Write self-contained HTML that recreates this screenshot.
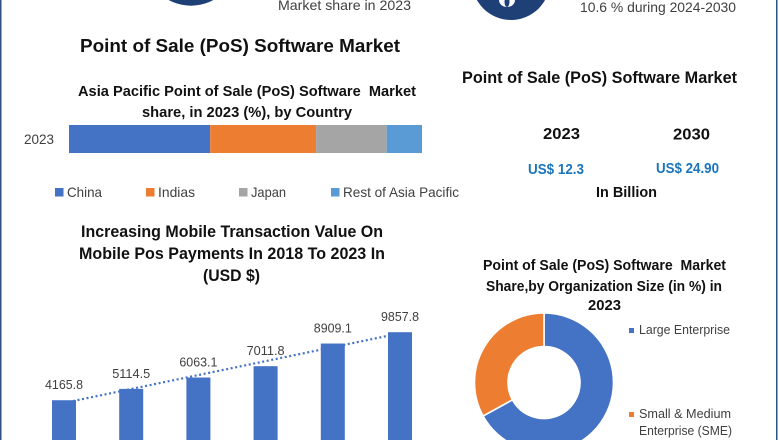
<!DOCTYPE html>
<html lang="en">
<head>
<meta charset="utf-8">
<title>Point of Sale (PoS) Software Market</title>
<style>
html,body{margin:0;padding:0;background:#fff;}
body{width:780px;height:440px;overflow:hidden;}
svg{display:block;filter:blur(0.3px);font-family:"Liberation Sans",sans-serif;}
.t{font-weight:bold;fill:#111;}
.n{fill:#404040;}
</style>
</head>
<body>
<svg id="chart" width="780" height="440" viewBox="0 0 780 440" xmlns="http://www.w3.org/2000/svg">
  <rect x="0" y="0" width="780" height="440" fill="#fff"/>
  <rect x="0" y="0" width="1.5" height="440" fill="#2f5285"/>
  <rect x="776" y="0" width="1.5" height="440" fill="#2f5285"/>

  <circle cx="191" cy="-41" r="46.7" fill="#1f3f77"/>
  <circle cx="511" cy="-19" r="39" fill="#1f3f77"/>
  <ellipse cx="507" cy="0" rx="8" ry="7" fill="#fff"/>
  <ellipse cx="507" cy="2" rx="2.5" ry="5" fill="#1f3f77"/>

  <text class="n" x="278" y="10" font-size="14" textLength="133" lengthAdjust="spacingAndGlyphs">Market share in 2023</text>
  <text class="n" x="580" y="12" font-size="14" textLength="156" lengthAdjust="spacingAndGlyphs">10.6 % during 2024-2030</text>

  <text class="t" x="80" y="52" font-size="18.5" textLength="320" lengthAdjust="spacingAndGlyphs">Point of Sale (PoS) Software Market</text>
  <text class="t" x="78" y="96" font-size="15" textLength="338" lengthAdjust="spacingAndGlyphs" xml:space="preserve">Asia Pacific Point of Sale (PoS) Software  Market</text>
  <text class="t" x="142" y="117" font-size="15" textLength="210" lengthAdjust="spacingAndGlyphs">share, in 2023 (%), by Country</text>
  <text class="n" x="24" y="144" font-size="14" textLength="30" lengthAdjust="spacingAndGlyphs">2023</text>
  <g id="stack"></g>

  <g>
    <rect x="55" y="188" width="8.5" height="8.5" fill="#4472c4"/>
    <text class="n" x="67" y="197" font-size="14" textLength="35" lengthAdjust="spacingAndGlyphs">China</text>
    <rect x="146" y="188" width="8.5" height="8.5" fill="#ed7d31"/>
    <text class="n" x="158" y="197" font-size="14" textLength="37" lengthAdjust="spacingAndGlyphs">Indias</text>
    <rect x="239" y="188" width="8.5" height="8.5" fill="#a5a5a5"/>
    <text class="n" x="251" y="197" font-size="14" textLength="35" lengthAdjust="spacingAndGlyphs">Japan</text>
    <rect x="331" y="188" width="8.5" height="8.5" fill="#5b9bd5"/>
    <text class="n" x="343" y="197" font-size="14" textLength="116" lengthAdjust="spacingAndGlyphs">Rest of Asia Pacific</text>
  </g>

  <text class="t" x="462" y="83" font-size="17" textLength="275" lengthAdjust="spacingAndGlyphs">Point of Sale (PoS) Software Market</text>
  <text class="t" x="543" y="139" font-size="16" textLength="37" lengthAdjust="spacingAndGlyphs">2023</text>
  <text class="t" x="673" y="139.5" font-size="16" textLength="37" lengthAdjust="spacingAndGlyphs">2030</text>
  <text font-weight="bold" fill="#1b75bc" x="528" y="174" font-size="14.5" textLength="56" lengthAdjust="spacingAndGlyphs">US$ 12.3</text>
  <text font-weight="bold" fill="#1b75bc" x="656" y="173" font-size="14.5" textLength="63" lengthAdjust="spacingAndGlyphs">US$ 24.90</text>
  <text class="t" x="596" y="197" font-size="15" textLength="61" lengthAdjust="spacingAndGlyphs">In Billion</text>

  <text class="t" x="81" y="237" font-size="16.5" textLength="302" lengthAdjust="spacingAndGlyphs">Increasing Mobile Transaction Value On</text>
  <text class="t" x="79" y="259" font-size="16.5" textLength="306" lengthAdjust="spacingAndGlyphs">Mobile Pos Payments In 2018 To 2023 In</text>
  <text class="t" x="203" y="281" font-size="16.5" textLength="57" lengthAdjust="spacingAndGlyphs">(USD $)</text>
  <g id="bars"></g>

  <text class="t" x="483" y="270" font-size="14.5" textLength="243" lengthAdjust="spacingAndGlyphs" xml:space="preserve">Point of Sale (PoS) Software  Market</text>
  <text class="t" x="486" y="291" font-size="14.5" textLength="236" lengthAdjust="spacingAndGlyphs">Share,by Organization Size (in %) in</text>
  <text class="t" x="588" y="310" font-size="14.5" textLength="33" lengthAdjust="spacingAndGlyphs">2023</text>
  <g id="donut"></g>

  <g>
    <rect x="629" y="328" width="5" height="5" fill="#4472c4"/>
    <text class="n" x="639" y="334" font-size="12.5" textLength="91" lengthAdjust="spacingAndGlyphs">Large Enterprise</text>
    <rect x="629" y="412" width="5" height="5" fill="#ed7d31"/>
    <text class="n" x="639" y="418" font-size="12.5" textLength="92" lengthAdjust="spacingAndGlyphs">Small &amp; Medium</text>
    <text class="n" x="639" y="435" font-size="12.5" textLength="93" lengthAdjust="spacingAndGlyphs">Enterprise (SME)</text>
  </g>
</svg>
<script>
const stackCategories = ['china', 'indias', 'japan', 'rest-of-asia-pacific'];
const stackValues = [40, 30, 20, 10];
const stackColors = ['#4472c4', '#ed7d31', '#a5a5a5', '#5b9bd5'];

const barYears = ['2018', '2019', '2020', '2021', '2022', '2023'];
const barValues = [4165.8, 5114.5, 6063.1, 7011.8, 8909.1, 9857.8];
const barLabels = ['4165.8', '5114.5', '6063.1', '7011.8', '8909.1', '9857.8'];

const donutCategories = ['large-enterprise', 'small-medium-enterprise'];
const donutValues = [67, 33];
const donutColors = ['#4472c4', '#ed7d31'];

const NS = 'http://www.w3.org/2000/svg';
function make(tag, parent, attrs) {
  const el = document.createElementNS(NS, tag);
  for (const k in attrs) el.setAttribute(k, attrs[k]);
  parent.appendChild(el);
  return el;
}

// Stacked bar
const stackGroup = document.getElementById('stack');
const stackTotal = stackValues.reduce((a, b) => a + b, 0);
const stackX = v => 69 + v / stackTotal * 353;
let running = 0;
stackValues.forEach((v, i) => {
  const seg = make('rect', stackGroup, {x: stackX(running), y: 125, width: stackX(running + v) - stackX(running), height: 28, fill: stackColors[i]});
  
  
  running += v;
});

// Bar chart
const barGroup = document.getElementById('bars');
const barX = i => 64 + i * 67.2;
const barY = v => 450 - v * 0.01195;
const n = barValues.length;
const meanI = (n - 1) / 2;
const meanV = barValues.reduce((a, b) => a + b, 0) / n;
let sxy = 0, sxx = 0;
barValues.forEach((v, i) => {
  sxy += (i - meanI) * (v - meanV);
  sxx += (i - meanI) * (i - meanI);
});
const slope = sxy / sxx;
const trendAt = i => meanV + slope * (i - meanI);
const trend = make('line', barGroup, {x1: barX(0), y1: barY(trendAt(0)), x2: barX(n - 1), y2: barY(trendAt(n - 1)), stroke: '#4472c4', 'stroke-width': 2.2, 'stroke-dasharray': '2 2.6'});


barValues.forEach((v, i) => {
  const bar = make('rect', barGroup, {x: barX(i) - 12, y: barY(v), width: 24, height: 450 - barY(v), fill: '#4472c4'});
  
  
  const label = make('text', barGroup, {x: barX(i), y: barY(v) - 11, 'text-anchor': 'middle', 'font-size': 13, fill: '#404040', textLength: 38, lengthAdjust: 'spacingAndGlyphs'});
  
  
  label.textContent = barLabels[i];
});

// Donut
const donutGroup = document.getElementById('donut');
const cx = 544, cy = 382.5, outer = 69.5, inner = 36;
const donutTotal = donutValues.reduce((a, b) => a + b, 0);
const pt = (r, a) => [cx + r * Math.sin(a), cy - r * Math.cos(a)];
let angle = 0;
donutValues.forEach((v, i) => {
  const sweep = v / donutTotal * Math.PI * 2;
  const end = angle + sweep;
  const large = sweep > Math.PI ? 1 : 0;
  const a = pt(outer, angle), b = pt(outer, end), c = pt(inner, end), d = pt(inner, angle);
  const slice = make('path', donutGroup, {
    d: 'M' + a + ' A' + outer + ' ' + outer + ' 0 ' + large + ' 1 ' + b + ' L' + c + ' A' + inner + ' ' + inner + ' 0 ' + large + ' 0 ' + d + ' Z',
    fill: donutColors[i], stroke: '#fff', 'stroke-width': 1.6
  });
  
  
  angle = end;
});
</script>
</body>
</html>
